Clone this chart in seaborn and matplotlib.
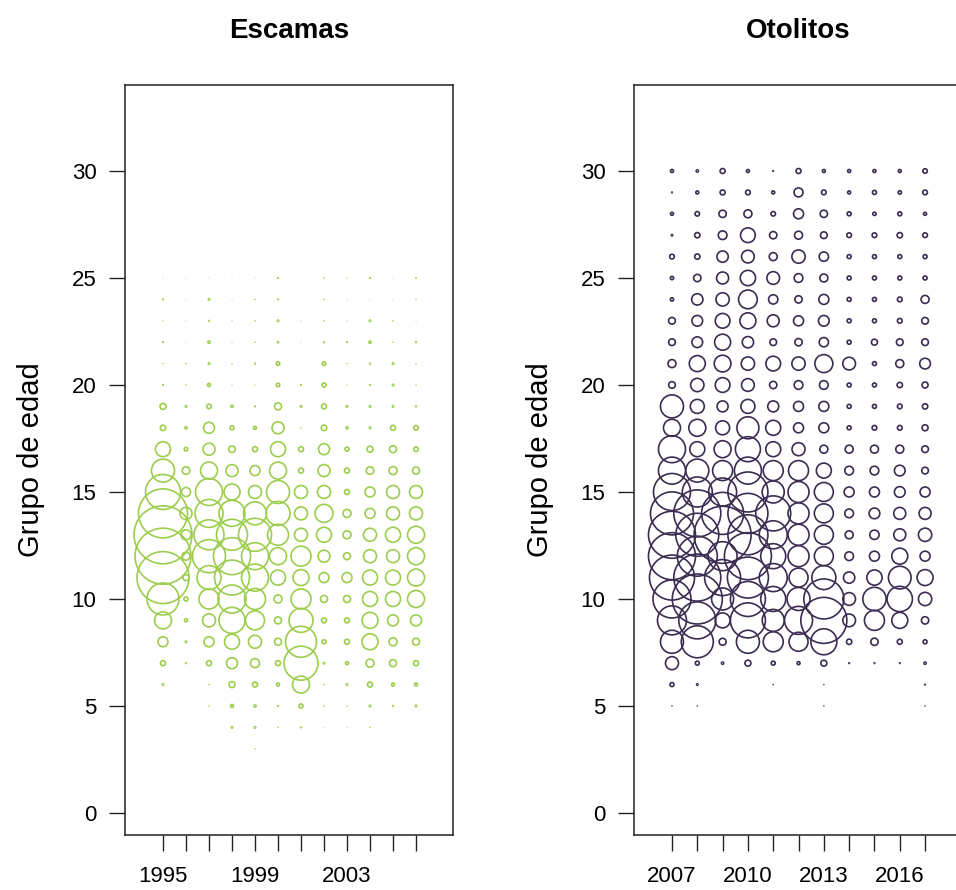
import matplotlib
matplotlib.use("Agg")
import matplotlib.pyplot as plt
import numpy as np
import pandas as pd
import seaborn as sns

# relative circle radius (per year, per age group)
escamas_anios = [1995, 1996, 1997, 1998, 1999, 2000, 2001, 2002, 2003, 2004, 2005, 2006]
escamas_edades = list(range(25, 2, -1))
escamas_radio = [
    [0.5, 0.5, 0.5, 0.5, 0.5, 1.5, 0, 1, 0.8, 1.5, 0.5, 1.2],
    [1.5, 0.5, 2, 0.5, 1, 1.5, 0, 1, 0.5, 0.5, 0.5, 1],
    [0.8, 0.5, 1.5, 0.8, 1, 2, 0.5, 1, 0.5, 2, 1, 0.5],
    [1.5, 0.5, 2.5, 0.8, 1, 1.8, 0.5, 1.5, 1.5, 2.5, 1, 1.5],
    [1, 1, 2, 1, 1.5, 3.5, 0, 3.5, 1, 1.5, 2, 1],
    [1.5, 1, 3, 0.8, 0.8, 3.5, 1.5, 4, 0.8, 1.5, 2, 1],
    [6, 2, 4.5, 2.5, 1.5, 7, 2, 5, 2, 2, 2, 1.5],
    [5.3, 2.5, 11, 4, 3, 12, 1, 5.5, 2.5, 2, 5, 4.5],
    [15, 3.5, 12, 6.5, 5, 15, 5, 11, 4, 6, 7, 4.5],
    [23, 7.5, 17, 12, 10, 17, 5, 12, 5, 7.5, 8, 7],
    [35, 9, 27, 16, 13, 23, 13, 13, 5, 10, 13, 13],
    [49, 12, 28, 26, 23, 24, 13, 18, 8, 10, 13, 13],
    [58, 10, 30, 31, 33, 21, 13, 15, 8, 13, 15, 17],
    [56, 8, 33, 37, 27, 17, 20, 12, 7, 13, 13, 17],
    [52, 6, 24, 35, 27, 15, 16, 10, 10, 15, 15, 17],
    [32, 4, 20, 28, 21, 8, 20, 7, 7, 15, 15, 17],
    [17, 3, 13, 26, 19, 7, 24, 5, 5, 16, 11, 11],
    [10, 2, 10, 15, 13, 7, 31, 4, 5, 16, 8, 7],
    [5, 1.5, 5, 11, 9, 5, 34, 2, 3, 8, 7, 5],
    [2, 0, 1, 6, 5, 3, 17, 1, 2, 5, 3, 3],
    [0, 0, 1, 3, 2.5, 1.5, 4, 1, 1, 2, 1.5, 2],
    [0, 0, 0, 2, 2, 1, 1.5, 0.5, 0.5, 1, 0, 0],
    [0, 0, 0, 0, 1, 0, 0, 0, 0, 0, 0, 0],
]
escamas_xlabels = ["1995", "", "", "", "1999", "", "", "", "2003", "", "", ""]

otolitos_anios = [2007, 2008, 2009, 2010, 2011, 2012, 2013, 2014, 2015, 2016, 2017]
otolitos_edades = list(range(30, 4, -1))
otolitos_radio = [
    [3, 2.5, 5, 3, 1.5, 5, 3, 3, 3, 3, 4.5],
    [1.5, 3, 5, 4.7, 3, 9, 4.7, 3, 4, 3.3, 4.7],
    [3, 4.5, 7.3, 8, 4.5, 10, 7.3, 4, 3.3, 4, 3],
    [2, 5.3, 8.7, 14.7, 7.3, 8, 6.7, 4.7, 4.7, 5.3, 4.7],
    [4.7, 5.3, 11.3, 12.7, 8, 13.3, 9.3, 4, 4, 4, 4],
    [3.3, 7.3, 12, 15.3, 12.7, 8.7, 8, 4, 4, 4, 4],
    [3.3, 11.3, 13.3, 18.7, 9.3, 7.3, 10, 4, 4, 4.7, 8],
    [6.7, 10.7, 14.7, 16, 12, 10, 10.7, 4, 4, 4.7, 6.7],
    [6.7, 10.7, 16, 11.3, 6.7, 7.3, 9.3, 4, 6, 6.7, 6.7],
    [8, 16, 16.7, 13.3, 14.7, 13.3, 18, 12.7, 4, 8, 10.7],
    [6.7, 13.3, 14.7, 12.7, 7.3, 8.7, 8.7, 4, 4, 5.3, 6],
    [23, 14, 11, 14, 11, 10, 10, 4, 4, 4.7, 5.3],
    [17, 17, 14, 22, 15, 10, 10, 4, 4.7, 4.7, 6],
    [27, 15, 17, 25, 15, 13, 8, 8, 8, 8, 6.7],
    [27, 23, 20, 27, 20, 20, 15, 8.7, 8.7, 10.7, 6.7],
    [37, 30, 28, 40, 22, 21, 19, 10, 10, 10.7, 10],
    [43, 47, 42, 40, 35, 21, 19, 8.7, 10.7, 12, 12],
    [47, 43, 57, 40, 28, 21, 19, 8, 9.3, 12, 13.3],
    [47, 40, 29, 47, 25, 21, 19, 8.7, 10, 16, 10],
    [45, 47, 36, 41, 28, 19, 24, 11.3, 15.3, 22.7, 16],
    [38, 50, 22, 35, 25, 23, 40, 12.7, 23.3, 25.3, 13.3],
    [29, 37, 15, 35, 22, 28, 46, 12.7, 20, 16, 7.3],
    [23, 32, 7, 23, 20, 19, 26, 5.3, 7.3, 5, 4],
    [13, 4, 2.5, 6, 4, 3, 6, 1.5, 1.5, 1.5, 2.5],
    [4, 2, 0, 0, 1, 0, 1, 0, 0, 0, 1.5],
    [1, 1, 0, 0, 0, 0, 1, 0, 0, 0, 1],
]
otolitos_xlabels = ["2007", "", "", "2010", "", "", "2013", "", "", "2016", ""]

yticks = [0, 5, 10, 15, 20, 25, 30]


def to_long(years, ages, radio):
    rows = []
    for age, row in zip(ages, radio):
        for year, r in zip(years, row):
            if r > 0:
                rows.append({"anio": year, "edad": age, "radio": r, "area": r ** 2})
    return pd.DataFrame(rows)


sns.set_style("ticks")
plt.rcParams["font.family"] = ["Liberation Sans", "DejaVu Sans"]
plt.rcParams["text.color"] = "black"

fig = plt.figure(figsize=(9.56, 8.9), dpi=100)
ax1 = fig.add_axes([0.1308, 0.0618, 0.3431, 0.8427])
ax2 = fig.add_axes([0.6632, 0.0618, 0.3431, 0.8427])

vmax = 60.0 ** 2
px = 0.72  # points per pixel at 100 dpi

panels = [
    (ax1, "Escamas", escamas_anios, escamas_edades, escamas_radio, escamas_xlabels,
     "#9ccd4c", (1993.35, 2007.61)),
    (ax2, "Otolitos", otolitos_anios, otolitos_edades, otolitos_radio, otolitos_xlabels,
     "#3b2c52", (2005.5, 2018.46)),
]

for ax, title, years, ages, radio, xlabels, col, xlim in panels:
    df = to_long(years, ages, radio)
    sns.scatterplot(data=df, x="anio", y="edad", size="area",
                    sizes=(0, vmax * px ** 2), size_norm=(0, vmax),
                    color=col, legend=False, ax=ax)
    pts = ax.collections[-1]
    pts.set_facecolor("none")
    pts.set_edgecolor(col)
    # very small circles render faint in the original
    pts.set_linewidth(1.2 * np.clip(df["radio"].to_numpy() / 3.0, 0.25, 1.0))

    ax.set_xlim(*xlim)
    ax.set_ylim(-1.03, 34.02)
    ax.set_xticks(years)
    ax.set_xticklabels(xlabels)
    ax.set_yticks(yticks)
    ax.set_yticklabels([str(t) for t in yticks])
    ax.tick_params(axis="both", direction="out", length=11.5, width=1.0,
                   color="#222222", labelsize=16, labelcolor="black")
    ax.tick_params(axis="x", pad=11)
    ax.tick_params(axis="y", pad=9)
    ax.set_xlabel("")
    ax.set_ylabel("Grupo de edad", fontsize=21, color="black", labelpad=19)
    ax.set_title(title, fontsize=20, fontweight="bold", color="black", pad=34)
    for sp in ax.spines.values():
        sp.set_visible(True)
        sp.set_linewidth(1.1)
        sp.set_color("#222222")

fig.savefig("out.png", dpi=100)
